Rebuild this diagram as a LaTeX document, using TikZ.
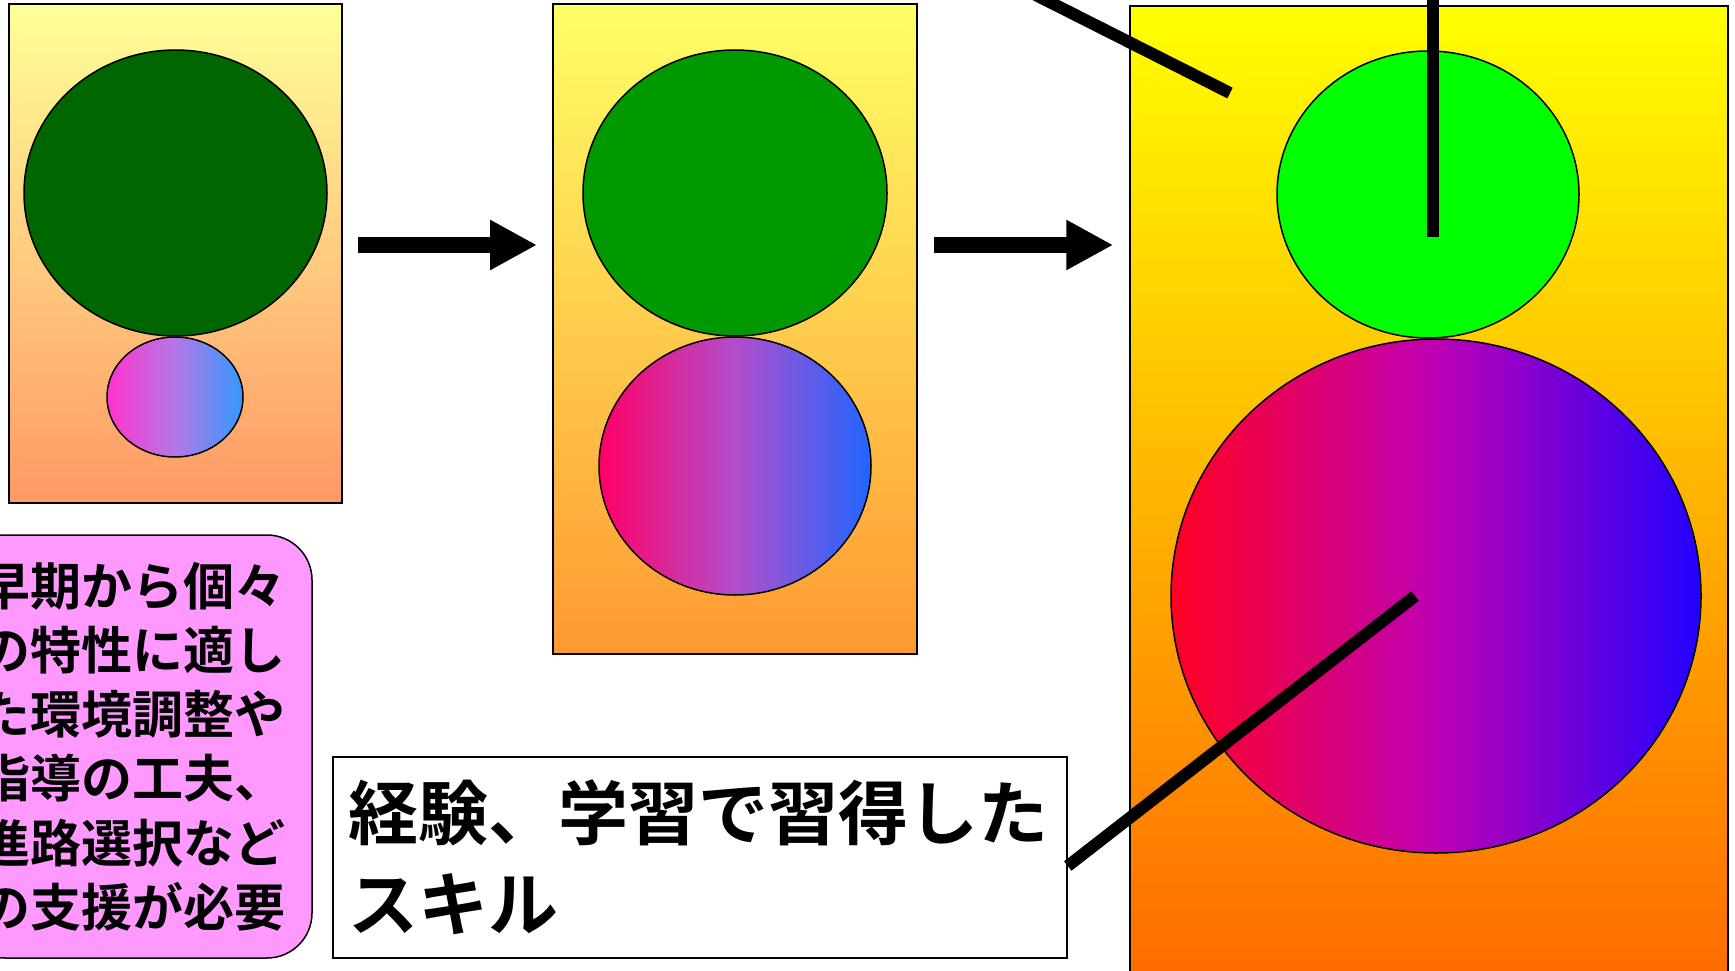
\documentclass[tikz,border=0pt]{standalone}
\usepackage{fontspec}
\newfontfamily\jp{Noto Sans CJK JP}[BoldFont={* Bold}]
\usetikzlibrary{shapes.geometric,arrows.meta}
\definecolor{lbtop}{HTML}{FFFF99}
\definecolor{lbbot}{HTML}{FF9966}
\definecolor{mbtop}{HTML}{FFFF66}
\definecolor{mbbot}{HTML}{FF9933}
\definecolor{rbtop}{HTML}{FFFF00}
\definecolor{rbbot}{HTML}{FF6600}
\definecolor{gdark}{HTML}{006600}
\definecolor{gmid}{HTML}{009900}
\definecolor{glight}{HTML}{00FF00}
\definecolor{sL}{HTML}{FF33CC}
\definecolor{sM}{HTML}{B478E6}
\definecolor{sR}{HTML}{3399FF}
\definecolor{mL}{HTML}{FF0066}
\definecolor{mM}{HTML}{B24ECC}
\definecolor{mR}{HTML}{1F66FF}
\definecolor{bL}{HTML}{FF0022}
\definecolor{bM}{HTML}{BE00B4}
\definecolor{bR}{HTML}{2200FF}
\definecolor{notepink}{HTML}{FF99FF}
\begin{document}
\begin{tikzpicture}[x=1pt,y=-1pt,
  panel/.style={draw=black, line width=2pt, rectangle, inner sep=0pt},
  blob/.style={draw=black, line width=1.5pt, ellipse, inner sep=0pt},
  blockarrow/.style={line width=16pt, -{Triangle[length=47pt,width=47pt]}},
  pointer/.style={line width=12pt, line cap=butt}]
\useasboundingbox (0,0) rectangle (1735,971);
\clip (0,0) rectangle (1735,971);
% left panel
\node[panel, top color=lbtop, bottom color=lbbot, minimum width=333pt, minimum height=499pt] (b1) at (175.5,253.5) {};
\node[blob, fill=gdark, minimum width=303pt, minimum height=286pt] (g1) at (175.5,193) {};
\node[blob, left color=sL, right color=sR, middle color=sM, minimum width=136pt, minimum height=120pt] (p1) at (175,397) {};
% middle panel
\node[panel, top color=mbtop, bottom color=mbbot, minimum width=364pt, minimum height=650pt] (b2) at (735,329) {};
\node[blob, fill=gmid, minimum width=304pt, minimum height=286pt] (g2) at (735,193) {};
\node[blob, left color=mL, right color=mR, middle color=mM, minimum width=272pt, minimum height=258pt] (p2) at (735,466) {};
% right panel
\node[panel, line width=1.5pt, top color=rbtop, bottom color=rbbot, minimum width=598pt, minimum height=1004pt] (b3) at (1429,508) {};
\node[blob, fill=glight, minimum width=302pt, minimum height=287pt] (g3) at (1428,194.5) {};
\node[blob, left color=bL, right color=bR, middle color=bM, minimum width=530pt, minimum height=514pt] (p3) at (1436,596) {};
% arrows
\coordinate (row) at (0,245);
\draw[blockarrow] ([xshift=15pt]b1.east |- row) -- ([xshift=-15pt]b2.west |- row);
\draw[blockarrow] ([xshift=16pt]b2.east |- row) -- ([xshift=-16pt]b3.west |- row);
% pointer lines
\coordinate (vtop) at (1433,-20);
\coordinate (vend) at (1433,237);
\draw[pointer] (vtop) -- (vend);
\coordinate (dtop) at (1000,-23);
\coordinate (dend) at (1230,93);
\draw[pointer] (dtop) -- (dend);
% note box
\node[draw=black, line width=1.5pt, fill=notepink, rounded corners=45pt, minimum width=352pt, minimum height=423pt, inner sep=0pt, text width=312pt, align=left, font=\jp\bfseries\fontsize{51pt}{64.2pt}\selectfont] (note) at (136,746.5)
{早期から個々\\の特性に適し\\た環境調整や\\指導の工夫、\\進路選択など\\の支援が必要};
% text box
\node[draw=black, line width=1.5pt, fill=white, minimum width=734pt, minimum height=201pt, inner sep=0pt, text width=704pt, align=left, font=\jp\bfseries\fontsize{70pt}{91pt}\selectfont] (tb) at (700,857.5)
{経験、学習で習得した\\スキル};
\coordinate (pend) at (1415,596);
\draw[pointer] ([yshift=-8.5pt]tb.east) -- (pend);
\end{tikzpicture}
\end{document}
